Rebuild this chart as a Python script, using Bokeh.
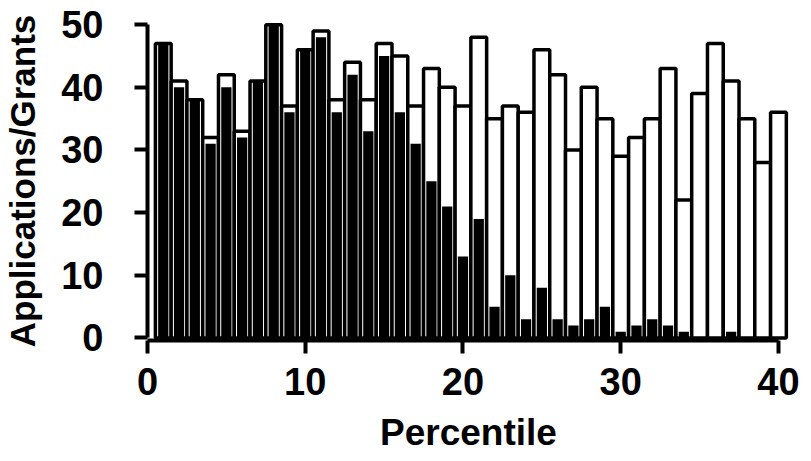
from bokeh.plotting import figure
from bokeh.models import Range1d, ColumnDataSource, FixedTicker
from bokeh.embed import file_html
from bokeh.resources import INLINE

percentile = list(range(1, 41))
applications = [47, 41, 38, 32, 42, 33, 41, 50, 37, 46,
                49, 38, 44, 38, 47, 45, 37, 43, 40, 37,
                48, 35, 37, 36, 46, 42, 30, 40, 35, 29,
                32, 35, 43, 22, 39, 47, 41, 35, 28, 36]
grants = [47, 40, 38, 31, 40, 32, 41, 50, 36, 46,
          48, 36, 42, 33, 45, 36, 31, 25, 21, 13,
          19, 5, 10, 3, 8, 3, 2, 3, 5, 1,
          2, 3, 2, 1, 0, 0, 1, 0, 0, 0]
x_ticks = [0, 10, 20, 30, 40]
y_ticks = [0, 10, 20, 30, 40, 50]

src = ColumnDataSource(dict(x=percentile, apps=applications, grants=grants))

FONT = "Liberation Sans"

p = figure(frame_width=642, frame_height=319, output_backend="svg", toolbar_location=None,
           x_range=Range1d(0, 40.7), y_range=Range1d(-0.4, 50.5),
           min_border_left=144, min_border_right=14, min_border_top=21,
           min_border_bottom=100)

p.vbar(x="x", top="apps", bottom=0, width=1.0, source=src,
       fill_color="white", line_color="black", line_width=3.5)
p.vbar(x="x", top="grants", bottom=0, width=0.65, source=src,
       fill_color="black", line_color=None)

p.grid.visible = False
p.outline_line_color = None
p.background_fill_color = "white"
p.border_fill_color = "white"

for ax in (p.xaxis[0], p.yaxis[0]):
    ax.axis_line_width = 4
    ax.axis_line_color = "black"
    ax.major_tick_line_width = 4
    ax.major_tick_line_color = "black"
    ax.major_tick_out = 13
    ax.major_tick_in = 0
    ax.minor_tick_line_color = None
    ax.major_label_text_font = FONT
    ax.major_label_text_font_style = "bold"
    ax.major_label_text_font_size = "38px"
    ax.major_label_text_color = "black"
    ax.axis_label_text_font = FONT
    ax.axis_label_text_font_style = "bold"
    ax.axis_label_text_color = "black"

p.xaxis[0].ticker = FixedTicker(ticks=x_ticks)
p.yaxis[0].ticker = FixedTicker(ticks=y_ticks)
p.xaxis[0].bounds = (0, 40)
p.yaxis[0].bounds = (0, 50)
p.xaxis[0].axis_label = "Percentile"
p.yaxis[0].axis_label = "Applications/Grants"
p.xaxis[0].axis_label_text_font_size = "37px"
p.yaxis[0].axis_label_text_font_size = "35px"
p.xaxis[0].major_label_standoff = 14
p.yaxis[0].major_label_standoff = 31
p.xaxis[0].axis_label_standoff = 14
p.yaxis[0].axis_label_standoff = 16

open("out.html", "w").write(file_html(p, INLINE))
